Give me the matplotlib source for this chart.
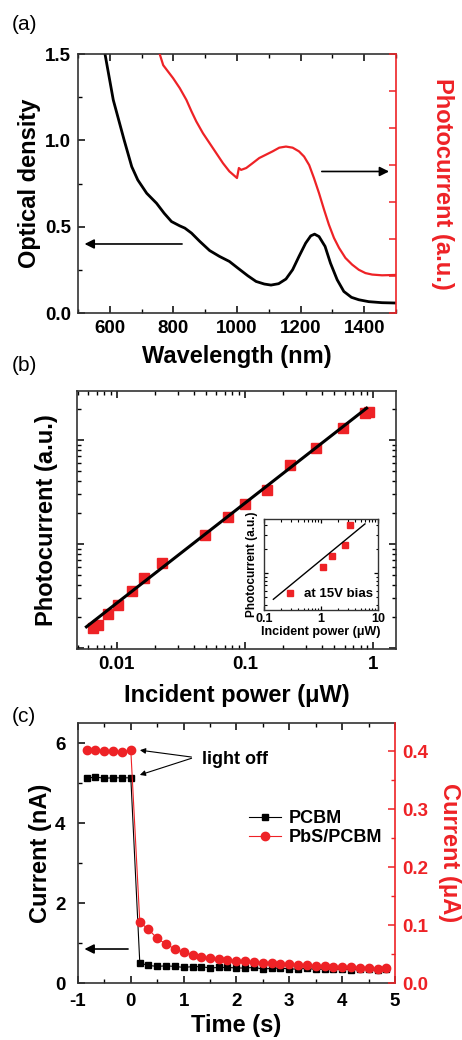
import numpy as np
import matplotlib
matplotlib.use('Agg')
import matplotlib.pyplot as plt
from matplotlib import ticker
from matplotlib.lines import Line2D

plt.rcParams['font.family'] = ['Liberation Sans', 'DejaVu Sans']
plt.rcParams['font.weight'] = 'bold'
plt.rcParams['axes.labelweight'] = 'bold'
plt.rcParams['axes.unicode_minus'] = False
plt.rcParams['mathtext.default'] = 'regular'

RED = '#ee2226'

# ---- panel (a): absorbance and photocurrent spectra
wl_od = [585, 611, 645, 669, 688, 716, 747, 771, 794, 820, 836, 857, 883, 914, 945,
         976, 1003, 1034, 1060, 1086, 1107, 1131, 1154, 1175, 1195, 1216, 1232, 1244,
         1258, 1277, 1294, 1315, 1336, 1360, 1383, 1414, 1456, 1500]
od = [1.5, 1.234, 1.003, 0.848, 0.771, 0.694, 0.636, 0.578, 0.530, 0.505, 0.492, 0.463,
      0.415, 0.362, 0.328, 0.299, 0.260, 0.216, 0.183, 0.168, 0.162, 0.170, 0.197, 0.251,
      0.328, 0.405, 0.447, 0.457, 0.443, 0.386, 0.289, 0.193, 0.125, 0.091, 0.077, 0.066,
      0.060, 0.058]
wl_pc = [757, 768, 783, 799, 820, 841, 857, 872, 893, 914, 935, 956, 976, 992, 1000,
         1006, 1013, 1029, 1049, 1070, 1091, 1112, 1133, 1154, 1175, 1195, 1211, 1227,
         1242, 1258, 1274, 1289, 1305, 1321, 1341, 1362, 1383, 1404, 1425, 1456, 1500]
pc = [7.0, 6.70, 6.53, 6.35, 6.08, 5.76, 5.45, 5.18, 4.86, 4.59, 4.32, 4.05, 3.83, 3.71,
      3.65, 3.92, 3.87, 3.92, 4.05, 4.19, 4.28, 4.37, 4.47, 4.50, 4.47, 4.37, 4.23, 4.0,
      3.65, 3.24, 2.79, 2.39, 2.03, 1.76, 1.49, 1.31, 1.17, 1.08, 1.04, 1.02, 1.03]

# ---- panel (b): photocurrent vs incident power
power = [0.00658, 0.0072, 0.00862, 0.0103, 0.0131, 0.0164, 0.0227, 0.0485, 0.0742,
         0.1, 0.148, 0.224, 0.361, 0.583, 0.86, 0.93]
photo = [0.155, 0.166, 0.212, 0.259, 0.356, 0.468, 0.652, 1.22, 1.83, 2.41, 3.31,
         5.75, 8.43, 12.9, 18.3, 18.7]
fit_x = [0.0058, 0.89]
fit_y = [0.16, 20.2]
# inset (15 V bias)
in_power = [0.286, 1.08, 1.58, 2.61, 3.19]
in_photo = [0.567, 1.18, 1.63, 2.24, 4.02]
in_fit_x = [0.146, 5.9]
in_fit_y = [0.469, 4.1]

# ---- panel (c): transient current
time = [-0.83, -0.67, -0.5, -0.33, -0.17, 0.0, 0.17, 0.33, 0.5, 0.67, 0.83, 1.0, 1.17,
        1.33, 1.5, 1.67, 1.83, 2.0, 2.17, 2.33, 2.5, 2.67, 2.83, 3.0, 3.17, 3.33, 3.5,
        3.67, 3.83, 4.0, 4.17, 4.33, 4.5, 4.67, 4.83]
pcbm = [5.12, 5.15, 5.12, 5.13, 5.13, 5.13, 0.5, 0.44, 0.415, 0.43, 0.415, 0.39, 0.41,
        0.41, 0.375, 0.39, 0.39, 0.375, 0.375, 0.39, 0.35, 0.365, 0.375, 0.35, 0.35,
        0.365, 0.34, 0.35, 0.34, 0.35, 0.33, 0.34, 0.34, 0.32, 0.34]
pbs = [0.403, 0.403, 0.400, 0.400, 0.399, 0.402, 0.105, 0.093, 0.077, 0.067, 0.059,
       0.053, 0.049, 0.045, 0.0425, 0.041, 0.040, 0.038, 0.0373, 0.0363, 0.0351, 0.0346,
       0.0334, 0.0323, 0.0317, 0.0305, 0.0294, 0.0288, 0.0282, 0.0276, 0.0271, 0.0265,
       0.0259, 0.0248, 0.0253]

TICK = 13.5
LAB = 17

fig = plt.figure(figsize=(4.62, 10.40), dpi=100)


def style(ax, **kw):
    ax.tick_params(which='both', direction='in', labelsize=TICK, **kw)
    ax.tick_params(which='major', length=5, width=1.1, pad=5)
    ax.tick_params(which='minor', length=2.8, width=1.0)
    for s in ax.spines.values():
        s.set_linewidth(1.2)
        s.set_color('#333333')


# ===================== (a)
axa = fig.add_axes([0.1688, 0.6990, 0.6883, 0.2490])
axa.plot(wl_od, od, color='black', lw=2.0)
axa.set_xlim(500, 1500)
axa.set_ylim(0, 1.5)
axa.xaxis.set_major_locator(ticker.MultipleLocator(200))
axa.xaxis.set_minor_locator(ticker.MultipleLocator(100))
axa.yaxis.set_major_locator(ticker.MultipleLocator(0.5))
axa.yaxis.set_minor_locator(ticker.MultipleLocator(0.25))
axa.yaxis.set_major_formatter(ticker.FormatStrFormatter('%.1f'))
style(axa, top=True, right=False)
axa.set_xlabel('Wavelength (nm)', fontsize=LAB, labelpad=6)
axa.set_ylabel('Optical density', fontsize=LAB, labelpad=3)
axa.annotate('', xy=(512, 0.40), xytext=(836, 0.40),
             arrowprops=dict(arrowstyle='-|>', color='black', lw=1.2,
                             mutation_scale=14))
axa.annotate('', xy=(1487, 0.82), xytext=(1258, 0.82),
             arrowprops=dict(arrowstyle='-|>', color='black', lw=1.2,
                             mutation_scale=14))

axa2 = axa.twinx()
axa2.plot(wl_pc, pc, color=RED, lw=1.6)
axa2.set_ylim(0, 7)
axa2.yaxis.set_major_locator(ticker.MultipleLocator(1))
axa2.yaxis.set_major_formatter(ticker.NullFormatter())
axa2.tick_params(axis='y', which='both', direction='in', colors=RED, length=5, width=1.1)
axa2.set_ylabel('Photocurrent (a.u.)', color=RED, fontsize=LAB, rotation=270,
                labelpad=38)
axa.spines['right'].set_visible(False)
for s in ['left', 'top', 'bottom']:
    axa2.spines[s].set_visible(False)
axa2.spines['right'].set_color(RED)
axa2.spines['right'].set_linewidth(1.2)

# ===================== (b)
axb = fig.add_axes([0.1667, 0.3760, 0.6905, 0.2481])
axb.loglog(power, photo, 's', color=RED, ms=7.5, mec=RED, zorder=2)
axb.loglog(fit_x, fit_y, '-', color='black', lw=2.2, zorder=3)
axb.set_xlim(0.0049, 1.51)
axb.set_ylim(0.098, 29.6)
axb.xaxis.set_major_formatter(ticker.FormatStrFormatter('%g'))
axb.yaxis.set_major_formatter(ticker.NullFormatter())
axb.yaxis.set_minor_formatter(ticker.NullFormatter())
style(axb, top=True, right=True)
axb.set_xlabel('Incident power (\u03bcW)', fontsize=LAB, labelpad=8)
axb.set_ylabel('Photocurrent (a.u.)', fontsize=LAB, labelpad=9)

axi = fig.add_axes([0.5714, 0.4135, 0.2468, 0.0875])
axi.loglog(in_power, in_photo, 's', color=RED, ms=4.5, mec=RED)
axi.loglog(in_fit_x, in_fit_y, '-', color='black', lw=1.0)
axi.set_xlim(0.1, 10)
axi.set_ylim(0.345, 4.73)
axi.xaxis.set_major_formatter(ticker.FormatStrFormatter('%g'))
axi.yaxis.set_major_formatter(ticker.NullFormatter())
axi.yaxis.set_minor_formatter(ticker.NullFormatter())
axi.tick_params(which='both', direction='in', top=True, right=True, labelsize=9,
                pad=2)
axi.tick_params(which='major', length=3, width=0.9)
axi.tick_params(which='minor', length=1.8, width=0.8)
for s in axi.spines.values():
    s.set_linewidth(1.0)
    s.set_color('#333333')
axi.set_xlabel('Incident power (\u03bcW)', fontsize=9, labelpad=1)
axi.set_ylabel('Photocurrent (a.u.)', fontsize=8.5, labelpad=2)
axi.text(0.96, 0.17, 'at 15V bias', transform=axi.transAxes, ha='right', va='center',
         fontsize=9.5)

# ===================== (c)
axc = fig.add_axes([0.1688, 0.0548, 0.6861, 0.25])
axc.plot(time, pcbm, '-s', color='black', lw=0.8, ms=5)
axc.set_xlim(-1, 5)
axc.set_ylim(0, 6.5)
axc.xaxis.set_major_locator(ticker.MultipleLocator(1))
axc.xaxis.set_minor_locator(ticker.MultipleLocator(0.5))
axc.yaxis.set_major_locator(ticker.MultipleLocator(2))
axc.yaxis.set_minor_locator(ticker.MultipleLocator(1))
style(axc, top=True, right=False)
axc.tick_params(axis='y', pad=9)
axc.tick_params(axis='x', pad=7)
axc.set_xlabel('Time (s)', fontsize=LAB, labelpad=3)
axc.set_ylabel('Current (nA)', fontsize=LAB, labelpad=2)
axc.annotate('', xy=(-0.93, 0.85), xytext=(0.0, 0.85),
             arrowprops=dict(arrowstyle='-|>', color='black', lw=1.2,
                             mutation_scale=14))

axc2 = axc.twinx()
axc2.plot(time, pbs, '-o', color=RED, lw=0.8, ms=6)
axc2.set_ylim(0, 0.449)
axc2.yaxis.set_major_locator(ticker.MultipleLocator(0.1))
axc2.yaxis.set_minor_locator(ticker.MultipleLocator(0.05))
axc2.yaxis.set_major_formatter(ticker.FormatStrFormatter('%.1f'))
axc2.tick_params(axis='y', which='both', direction='in', colors=RED, labelsize=TICK)
axc2.tick_params(axis='y', which='major', length=5, width=1.1, pad=5)
axc2.tick_params(axis='y', which='minor', length=2.8, width=1.0)
axc2.set_ylabel('Current (\u03bcA)', color=RED, fontsize=LAB, rotation=270, labelpad=24)
axc.spines['right'].set_visible(False)
for s in ['left', 'top', 'bottom']:
    axc2.spines[s].set_visible(False)
axc2.spines['right'].set_color(RED)
axc2.spines['right'].set_linewidth(1.2)

axc.text(1.35, 5.6, 'light off', fontsize=13, va='center', ha='left')
axc.annotate('', xy=(0.12, 5.83), xytext=(1.2, 5.64),
             arrowprops=dict(arrowstyle='-|>', color='black', lw=0.8,
                             mutation_scale=8))
axc.annotate('', xy=(0.12, 5.18), xytext=(1.2, 5.64),
             arrowprops=dict(arrowstyle='-|>', color='black', lw=0.8,
                             mutation_scale=8))

handles = [Line2D([], [], color='black', marker='s', lw=0.8, ms=5),
           Line2D([], [], color=RED, marker='o', lw=0.8, ms=6)]
axc.legend(handles, ['PCBM', 'PbS/PCBM'], loc='upper left',
           bbox_to_anchor=(0.51, 0.70), frameon=False, fontsize=13,
           handlelength=1.8, handletextpad=0.4, labelspacing=0.12, borderpad=0)

fig.text(0.026, 0.976, '(a)', fontsize=15, fontweight='normal', va='center')
fig.text(0.026, 0.649, '(b)', fontsize=15, fontweight='normal', va='center')
fig.text(0.026, 0.311, '(c)', fontsize=15, fontweight='normal', va='center')

fig.savefig('out.png', dpi=100)
